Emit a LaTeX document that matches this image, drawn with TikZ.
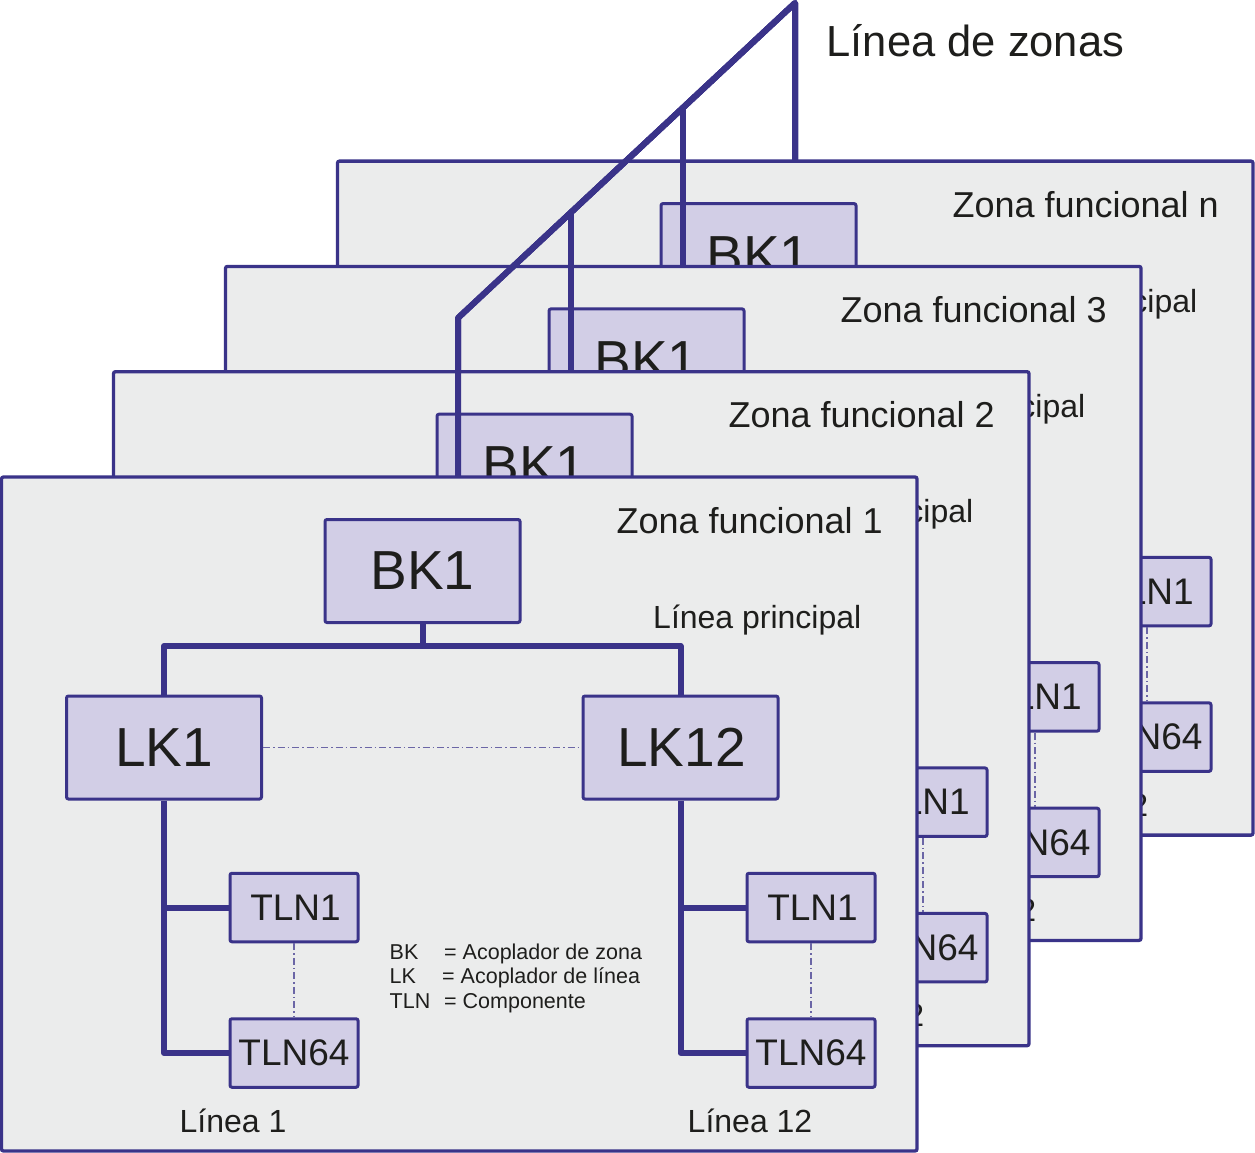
\documentclass[tikz,border=0pt]{standalone}
\usepackage{fontspec}
\setmainfont{Liberation Sans}
\definecolor{bd}{HTML}{3A3389}
\definecolor{boxfill}{HTML}{D2CEE6}
\definecolor{panelfill}{HTML}{EBECEC}
\definecolor{txt}{HTML}{1E1E1C}
\tikzset{
 panelbox/.style={draw=bd, fill=panelfill, line width=3.3pt, rounded corners=2pt, anchor=north west, inner sep=0pt, outer sep=0pt, minimum width=915.5pt, minimum height=674pt},
 unitbox/.style={draw=bd, fill=boxfill, line width=3pt, rounded corners=2pt, inner sep=0pt, text=txt},
 bigunit/.style={unitbox, minimum width=195pt, minimum height=103pt, font=\fontsize{55}{60}\selectfont},
 smallunit/.style={unitbox, minimum width=128pt, minimum height=68.5pt, font=\fontsize{37}{40}\selectfont},
 bus/.style={draw=bd, line width=6pt, line join=round},
 zoneline/.style={draw=bd, line width=6pt, line join=round},
 dd/.style={draw=bd!75, line width=1.1pt, dash pattern=on 7pt off 3pt on 1.5pt off 3pt},
 lbl/.style={text=txt, inner sep=0pt},
}
\newcommand\zonepanel[2]{%
\begin{scope}[shift={(3+112*#1,477.5-105.3*#1)}]
 \node[panelbox] (zone#1) at (-1.5,-0.5) {};
 \node[bigunit] (bk#1) at (419.5,93.5) {BK1};
 \node[bigunit] (lka#1) at (161,270) {LK1};
 \node[bigunit] (lkb#1) at (677.5,270) {\hspace*{2pt}LK12};
 \node[smallunit] (ta#1) at (291,430) {\hspace*{3pt}TLN1};
 \node[smallunit] (tb#1) at (291,575.5) {TLN64};
 \node[smallunit] (tc#1) at (808,430) {\hspace*{3pt}TLN1};
 \node[smallunit] (td#1) at (808,575.5) {TLN64};
 \coordinate (bus#1) at (419.5,168.5);
 \draw[bus] (bk#1.south) -- (bus#1);
 \draw[bus] (lka#1.north) |- (bus#1) -| (lkb#1.north);
 \draw[bus] (lka#1.south) |- (tb#1.west);
 \draw[bus] (lka#1.south |- ta#1.west) -- (ta#1.west);
 \draw[bus] (lkb#1.south) |- (td#1.west);
 \draw[bus] (lkb#1.south |- tc#1.west) -- (tc#1.west);
 \draw[dd] (lka#1.east) -- (lkb#1.west);
 \draw[dd] (ta#1.south) -- (tb#1.north);
 \draw[dd] (tc#1.south) -- (td#1.north);
 \node[lbl, anchor=base east, font=\fontsize{36}{40}\selectfont] (title#1) at (880,55.5) {Zona funcional #2};
 \node[lbl, anchor=base west, font=\fontsize{32}{36}\selectfont] (main#1) at (650,150.5) {Línea principal};
 \node[lbl, anchor=base, font=\fontsize{32}{36}\selectfont] (la#1) at (230,654.5) {Línea 1};
 \node[lbl, anchor=base, font=\fontsize{32}{36}\selectfont] (lb#1) at (747,654.5) {Línea 12};
 \node[lbl, anchor=base west, font=\fontsize{21.5}{24}\selectfont] (ka#1) at (386.5,481.5) {BK};
 \node[lbl, anchor=base west, font=\fontsize{21.5}{24}\selectfont] (kb#1) at (386.5,505.5) {LK};
 \node[lbl, anchor=base west, font=\fontsize{21.5}{24}\selectfont] (kc#1) at (386.5,530.5) {TLN};
 \node[lbl, anchor=base west, font=\fontsize{21.5}{24}\selectfont] (va#1) at (441,481.5) {= Acoplador de zona};
 \node[lbl, anchor=base west, font=\fontsize{21.5}{24}\selectfont] (vb#1) at (439,505.5) {= Acoplador de línea};
 \node[lbl, anchor=base west, font=\fontsize{21.5}{24}\selectfont] (vc#1) at (441,530.5) {= Componente};
\end{scope}}
\begin{document}
\begin{tikzpicture}[x=1pt,y=-1pt]
 \useasboundingbox (0,0) rectangle (1255,1153);
 \fill[white] (0,0) rectangle (1255,1153);
 \coordinate (zA) at (795,3);
 \coordinate (zB) at (795,161);
 \coordinate (zC) at (458,318);
 \coordinate (zD) at (458,510);
 \coordinate (zE) at (683,107.7);
 \coordinate (zE2) at (683,300);
 \coordinate (zF) at (571,212.4);
 \coordinate (zF2) at (571,405);
 \node[lbl, anchor=base west, font=\fontsize{43.5}{48}\selectfont] (zonelabel) at (826.5,57) {Línea de zonas};
 \zonepanel{3}{n}
 \draw[zoneline] (zB) -- (zA) -- (zC) -- (zD);
 \draw[zoneline] (zE) -- (zE2);
 \zonepanel{2}{3}
 \draw[zoneline] (zB) -- (zA) -- (zC) -- (zD);
 \draw[zoneline] (zF) -- (zF2);
 \zonepanel{1}{2}
 \draw[zoneline] (zB) -- (zA) -- (zC) -- (zD);
 \zonepanel{0}{1}
\end{tikzpicture}
\end{document}
